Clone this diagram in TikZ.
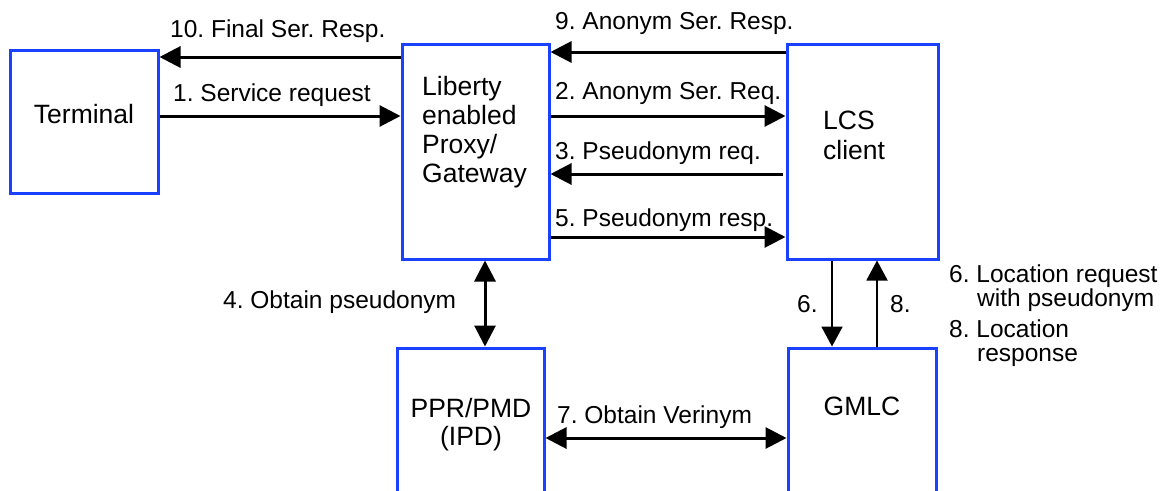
\documentclass[tikz,border=0pt]{standalone}
\usepackage{fontspec}
\setmainfont{Liberation Sans}
\usetikzlibrary{arrows.meta,calc}
\definecolor{boxblue}{RGB}{25,65,255}
\frenchspacing
\tikzset{
  box/.style={draw=boxblue, line width=3pt, rectangle, inner sep=0pt},
  boxtxt/.style={font=\fontsize{26.5}{29}\selectfont, inner sep=0pt},
  lbl/.style={font=\fontsize{24.5}{24}\selectfont, inner sep=0pt, anchor=base west},
  msg/.style={line width=3pt, -{Triangle[length=21pt,width=21pt]}},
  msgboth/.style={line width=3pt, {Triangle[length=21pt,width=21pt]}-{Triangle[length=21pt,width=21pt]}},
  thin msg/.style={line width=2pt, -{Triangle[length=20pt,width=21pt]}},
}
\begin{document}
\begin{tikzpicture}[x=1pt,y=-1pt]
\useasboundingbox (0,0) rectangle (1167,490);
\clip (0,0) rectangle (1167,490);
% boxes
\node[box, minimum width=148pt, minimum height=143pt] (term) at (84,121.5) {};
\node[box, minimum width=147pt, minimum height=215pt] (lib) at (475.5,151.5) {};
\node[box, minimum width=151pt, minimum height=215pt] (lcs) at (862.5,151.5) {};
\node[box, minimum width=147pt, minimum height=160pt] (ppr) at (470.5,428) {};
\node[box, minimum width=148pt, minimum height=160pt] (gmlc) at (862,428) {};
% box texts
\node[boxtxt, anchor=base] (termt) at (84,123) {Terminal};
\node[boxtxt, anchor=base west] (libt1) at (422,95) {Liberty};
\node[boxtxt, anchor=base west] (libt2) at (422,124) {enabled};
\node[boxtxt, anchor=base west] (libt3) at (422,153) {Proxy/};
\node[boxtxt, anchor=base west] (libt4) at (422,182) {Gateway};
\node[boxtxt, anchor=base west] (lcst1) at (823,129) {LCS};
\node[boxtxt, anchor=base west] (lcst2) at (823,159) {client};
\node[boxtxt, anchor=base] (pprt1) at (471,417) {PPR/PMD};
\node[boxtxt, anchor=base] (pprt2) at (471,445) {(IPD)};
\node[boxtxt, anchor=base] (gmlct) at (862,415) {GMLC};
% helper coordinates
\coordinate (y9) at (0,52);
\coordinate (y10) at (0,57);
\coordinate (y1) at (0,116);
\coordinate (y3) at (0,174);
\coordinate (y5) at (0,237);
\coordinate (y7) at (0,438);
\coordinate (x4) at (485,0);
\coordinate (x6) at (832,0);
\coordinate (x8) at (877,0);
% connectors
\draw[msg] (lib.west |- y10) -- (term.east |- y10);
\draw[msg] (term.east |- y1) -- (lib.west |- y1);
\draw[msg] (lcs.west |- y9) -- (lib.east |- y9);
\draw[msg] (lib.east |- y1) -- (lcs.west |- y1);
\draw[msg] ($(lcs.west |- y3)+(-3,0)$) -- (lib.east |- y3);
\draw[msg] (lib.east |- y5) -- (lcs.west |- y5);
\draw[msgboth] (x4 |- lib.south) -- (x4 |- ppr.north);
\draw[thin msg] (x6 |- lcs.south) -- (x6 |- gmlc.north);
\draw[thin msg] (x8 |- gmlc.north) -- (x8 |- lcs.south);
\draw[msgboth] (ppr.east |- y7) -- (gmlc.west |- y7);
% labels
\node[lbl] (l10) at (170,37.5) {10. Final Ser. Resp.};
\node[lbl] (l1) at (173,101) {1. Service request};
\node[lbl] (l9) at (555,29.5) {9. Anonym Ser. Resp.};
\node[lbl] (l2) at (555,99) {2. Anonym Ser. Req.};
\node[lbl] (l3) at (555,159) {3. Pseudonym req.};
\node[lbl] (l5) at (555,226) {5. Pseudonym resp.};
\node[lbl] (l4) at (223,308) {4. Obtain pseudonym};
\node[lbl] (l6) at (797,312) {6.};
\node[lbl] (l8) at (890,312) {8.};
\node[lbl] (l7) at (557,423) {7. Obtain Verinym};
\node[lbl] (l6a) at (949,282) {6. Location request};
\node[lbl] (l6b) at (977,306) {with pseudonym};
\node[lbl] (l8a) at (949,337) {8. Location};
\node[lbl] (l8b) at (977,361) {response};
\end{tikzpicture}
\end{document}
